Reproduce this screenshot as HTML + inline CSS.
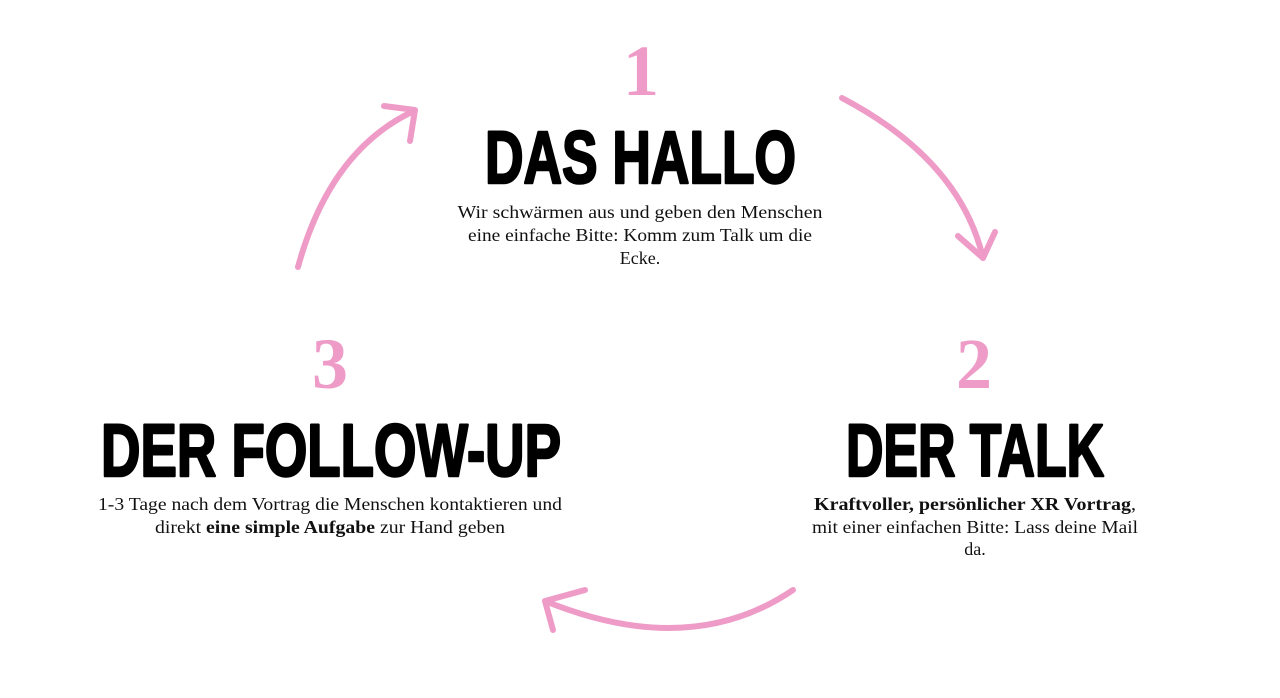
<!DOCTYPE html>
<html><head><meta charset="utf-8"><style>
html,body{margin:0;padding:0;background:#fff;width:1280px;height:698px;overflow:hidden}
svg{display:block}
.h{font-family:"Liberation Sans Narrow","Liberation Sans",sans-serif;font-weight:bold;font-size:74px;fill:#000;stroke:#000;stroke-width:2.5;stroke-linejoin:round}
.n{font-family:"Liberation Serif",serif;font-weight:bold;font-size:72px;fill:#ee9cc7}
.t{font-family:"Liberation Serif",serif;font-size:18px;fill:#111}
</style></head><body>
<svg width="1280" height="698" viewBox="0 0 1280 698">
<g fill="none" stroke="#ee9cc7" stroke-width="6" stroke-linecap="round" stroke-linejoin="round">
<path d="M298 267 Q330 150 414 111"/>
<path d="M384 106 L415 110 L410 141"/>
<path d="M842 98 Q960 160 983 258"/>
<path d="M958 236 L983 258 L995 232"/>
<path d="M793 590 Q690 660 545 601"/>
<path d="M585 590 L545 601 L553 630"/>
</g>
<text class="n" x="641" y="95" text-anchor="middle">1</text>
<text class="h" x="485" y="183" textLength="311" lengthAdjust="spacingAndGlyphs">DAS HALLO</text>
<text class="t" x="640" y="218" text-anchor="middle" textLength="365" lengthAdjust="spacingAndGlyphs">Wir schwärmen aus und geben den Menschen</text>
<text class="t" x="640" y="241" text-anchor="middle" textLength="344" lengthAdjust="spacingAndGlyphs">eine einfache Bitte: Komm zum Talk um die</text>
<text class="t" x="640" y="264" text-anchor="middle">Ecke.</text>

<text class="n" x="974" y="388" text-anchor="middle">2</text>
<text class="h" x="846" y="476" textLength="258" lengthAdjust="spacingAndGlyphs">DER TALK</text>
<text class="t" x="975" y="510" text-anchor="middle" textLength="322" lengthAdjust="spacingAndGlyphs"><tspan font-weight="bold">Kraftvoller, persönlicher XR Vortrag</tspan>,</text>
<text class="t" x="975" y="533" text-anchor="middle" textLength="326" lengthAdjust="spacingAndGlyphs">mit einer einfachen Bitte: Lass deine Mail</text>
<text class="t" x="975" y="555" text-anchor="middle">da.</text>

<text class="n" x="330" y="388" text-anchor="middle">3</text>
<text class="h" x="101" y="476" textLength="460" lengthAdjust="spacingAndGlyphs">DER FOLLOW-UP</text>
<text class="t" x="330" y="510" text-anchor="middle" textLength="464" lengthAdjust="spacingAndGlyphs">1-3 Tage nach dem Vortrag die Menschen kontaktieren und</text>
<text class="t" x="330" y="533" text-anchor="middle" textLength="350" lengthAdjust="spacingAndGlyphs">direkt <tspan font-weight="bold">eine simple Aufgabe</tspan> zur Hand geben</text>
</svg>
</body></html>
